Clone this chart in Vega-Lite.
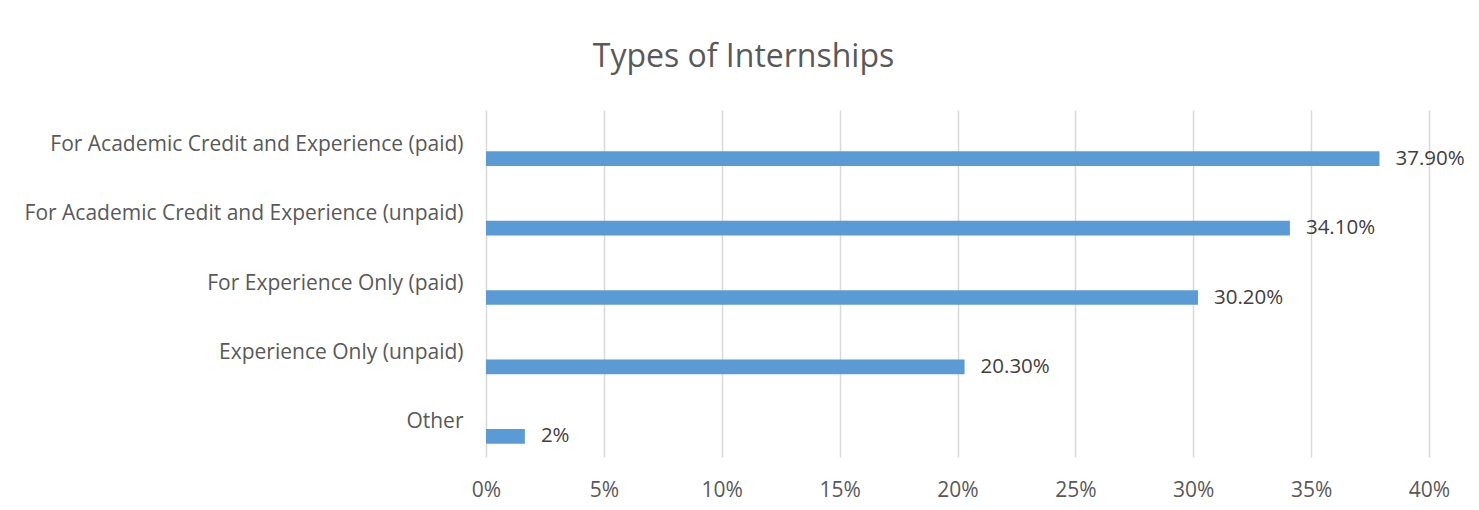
{
  "$schema": "https://vega.github.io/schema/vega-lite/v6.json",
  "autosize": "none",
  "width": 943,
  "height": 347,
  "padding": {"left": 486, "top": 110, "right": 50, "bottom": 53},
  "background": "white",
  "config": {"view": {"stroke": null}},
  "title": {
    "text": "Types of Internships",
    "font": "Open Sans",
    "fontSize": 32,
    "fontWeight": "normal",
    "color": "#595959",
    "anchor": "middle",
    "frame": "group",
    "dx": -214,
    "offset": 36
  },
  "data": {
    "values": [
      {"type": "For Academic Credit and Experience (paid)", "value": 0.379, "label": "37.90%"},
      {"type": "For Academic Credit and Experience (unpaid)", "value": 0.341, "label": "34.10%"},
      {"type": "For Experience Only (paid)", "value": 0.302, "label": "30.20%"},
      {"type": "Experience Only (unpaid)", "value": 0.203, "label": "20.30%"},
      {"type": "Other", "value": 0.0165, "label": "2%"}
    ]
  },
  "encoding": {
    "y": {
      "field": "type",
      "type": "nominal",
      "sort": null,
      "scale": {"paddingInner": 0, "paddingOuter": 0},
      "axis": {
        "title": null,
        "domain": false,
        "ticks": false,
        "tickSize": 0,
        "labelPadding": 23,
        "labelLimit": 1000,
        "labelFont": "Open Sans",
        "labelFontSize": 21,
        "labelColor": "#595959"
      }
    },
    "x": {
      "field": "value",
      "type": "quantitative",
      "scale": {"domain": [0, 0.4], "nice": false},
      "axis": {
        "title": null,
        "values": [0, 0.05, 0.1, 0.15, 0.2, 0.25, 0.3, 0.35, 0.4],
        "format": ".0%",
        "grid": true,
        "gridColor": "#d9d9d9",
        "gridWidth": 1.5,
        "domain": false,
        "ticks": false,
        "tickSize": 0,
        "labelFlush": false,
        "labelPadding": 22,
        "labelFont": "Open Sans",
        "labelFontSize": 21,
        "labelColor": "#595959"
      }
    }
  },
  "layer": [
    {
      "mark": {"type": "bar", "height": 14.7, "yOffset": 14, "color": "#5b9bd5"}
    },
    {
      "mark": {
        "type": "text",
        "align": "left",
        "baseline": "middle",
        "dx": 16,
        "yOffset": 14,
        "font": "Open Sans",
        "fontSize": 20.5,
        "color": "#404040"
      },
      "encoding": {"text": {"field": "label"}}
    }
  ]
}
